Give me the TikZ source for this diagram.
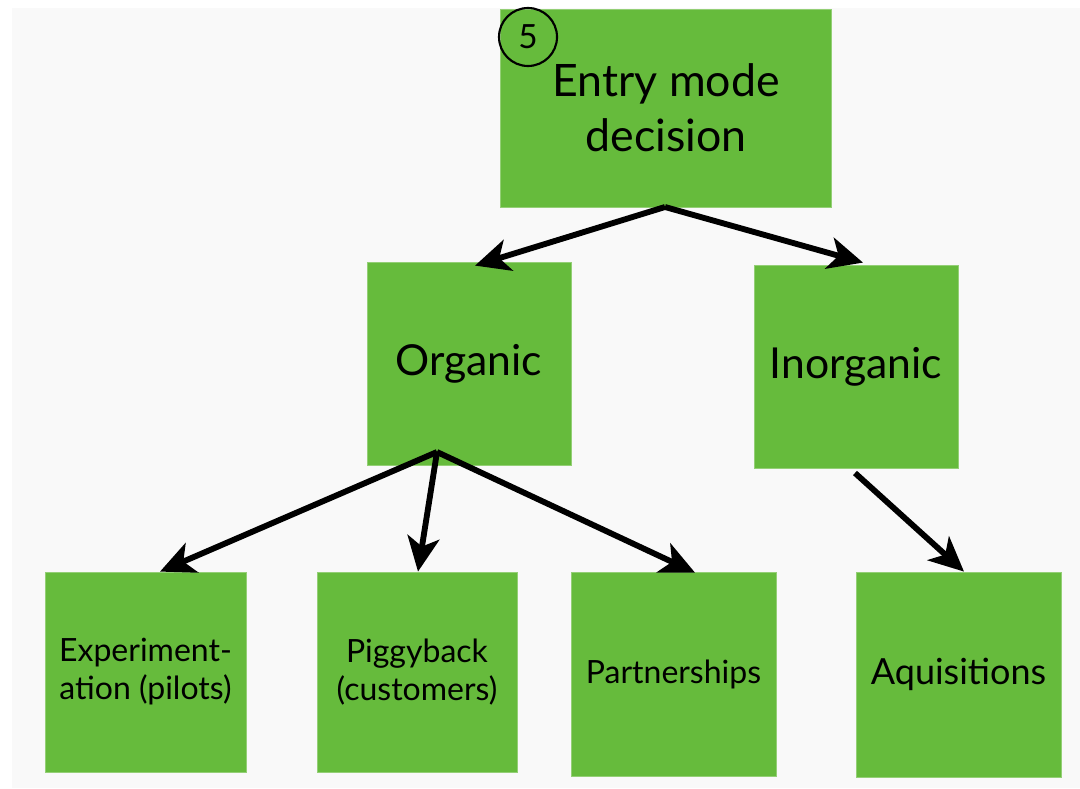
\documentclass[tikz,border=0pt]{standalone}
\usepackage{fontspec}
\setmainfont{Lato}
\usetikzlibrary{arrows.meta,calc}
\definecolor{leaf}{RGB}{102,187,60}
\definecolor{paper}{RGB}{249,249,249}
\tikzset{
  box/.style={fill=leaf, draw=leaf!70!white, line width=0.6pt, inner sep=0pt, align=center, text=black},
  bigtxt/.style={font=\fontsize{32}{41}\selectfont},
  toptxt/.style={font=\fontsize{33.5}{41}\selectfont},
  midtxt/.style={font=\fontsize{27}{33}\selectfont},
  smalltxt/.style={font=\fontsize{24}{28.5}\selectfont},
  arr/.style={line width=4.4pt, -{Stealth[length=26pt,width=24pt,inset=7pt]}, line join=miter}
}
\begin{document}
\begin{tikzpicture}[x=0.75pt,y=-0.75pt]
  \useasboundingbox[fill=white] (0,0) rectangle (1080,788);
  \fill[paper] (12,8) rectangle (1080,788);

  % decision tree boxes
  \node[box,toptxt,minimum width=331*0.75pt,minimum height=198*0.75pt] (entry) at (666,108) {Entry mode\\decision};
  \node[box,bigtxt,minimum width=204*0.75pt,minimum height=203*0.75pt] (org) at (469,363.5) {Organic};
  \node[box,bigtxt,minimum width=204*0.75pt,minimum height=203*0.75pt] (inorg) at (856,366.5) {Inorganic};
  \node[box,smalltxt,minimum width=201*0.75pt,minimum height=200*0.75pt] (exp) at (145.5,672) {Experiment-\\ation (pilots)};
  \node[box,smalltxt,minimum width=200*0.75pt,minimum height=200*0.75pt] (pig) at (417,672) {Piggyback\\(customers)};
  \node[box,smalltxt,minimum width=205*0.75pt,minimum height=204*0.75pt] (part) at (673.5,674) {Partnerships};
  \node[box,midtxt,minimum width=205*0.75pt,minimum height=205*0.75pt] (aqu) at (958.5,674.5) {Aquisitions};

  % step number badge
  \node[circle,draw=black,line width=1.6pt,minimum size=58*0.75pt,inner sep=0pt,
        font=\fontsize{25}{25}\selectfont] (num) at (528,37) {5};

  % fork points of the arrows
  \coordinate (entryfork) at (665,207);
  \coordinate (orgfork) at (437,452);
  \coordinate (inorgfork) at (855,473);

  \draw[arr] (entryfork) -- ([xshift=6*0.75pt,yshift=-4*0.75pt]org.north);
  \draw[arr] (entryfork) -- ([xshift=7*0.75pt,yshift=2*0.75pt]inorg.north);
  \draw[arr] (orgfork) -- ([xshift=14.5*0.75pt]exp.north);
  \draw[arr] (orgfork) -- ([xshift=1*0.75pt]pig.north);
  \draw[arr] (orgfork) -- ([xshift=21.5*0.75pt,yshift=-1*0.75pt]part.north);
  \draw[arr] (inorgfork) -- ([xshift=5.5*0.75pt]aqu.north);
\end{tikzpicture}
\end{document}
